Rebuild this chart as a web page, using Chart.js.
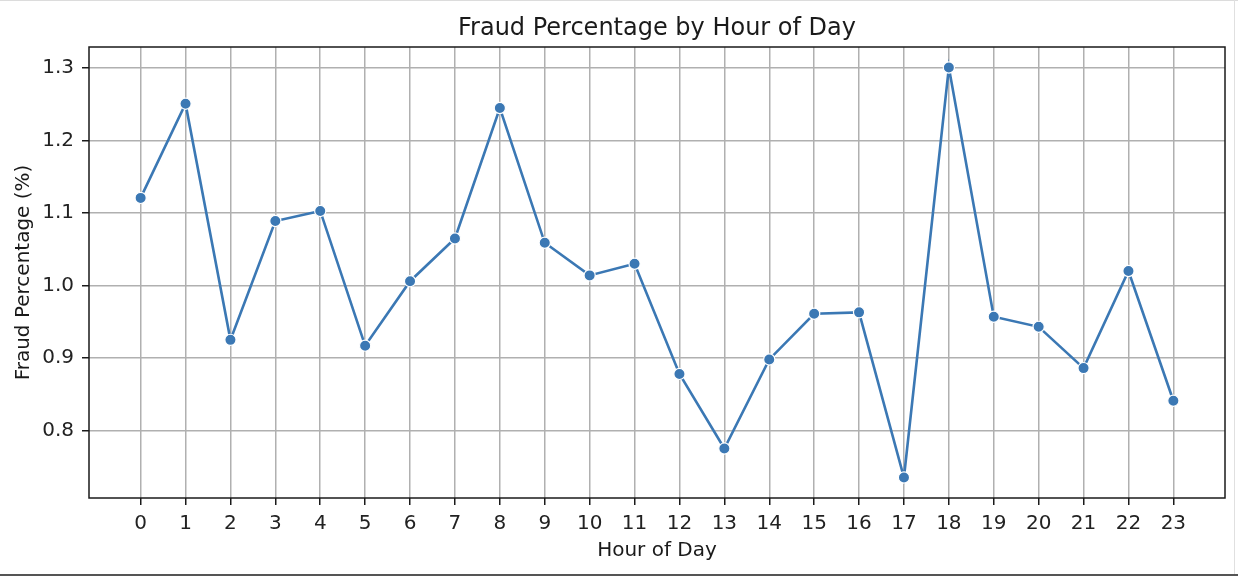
<!DOCTYPE html>
<html lang="en">
<head>
    <meta charset="UTF-8">
    <title>Fraud Percentage by Hour of Day</title>
    <script src="https://cdn.jsdelivr.net/npm/chart.js"></script>
    <style>
        html, body { margin: 0; padding: 0; background: #fff; }
        .wrap { position: relative; width: 1238px; height: 576px; overflow: hidden; }
        .edge-top { position: absolute; left: 0; top: 0; width: 1238px; height: 1px; background: #dcdcdc; }
        .edge-right { position: absolute; right: 3px; top: 0; width: 1px; height: 576px; background: #e0e0e0; }
        .edge-bottom { position: absolute; left: 0; top: 574px; width: 1238px; height: 2px; background: #555; }
    </style>
</head>
<body>
    <div class="wrap">
        <canvas id="fraudChart"></canvas>
        <div class="edge-top"></div>
        <div class="edge-right"></div>
        <div class="edge-bottom"></div>
    </div>
    <script>
        const hours = [0, 1, 2, 3, 4, 5, 6, 7, 8, 9, 10, 11, 12, 13, 14, 15, 16, 17, 18, 19, 20, 21, 22, 23];
        const fraudPct = [1.121, 1.251, 0.925, 1.089, 1.103, 0.917, 1.006, 1.065, 1.245, 1.059, 1.014, 1.030,
                          0.878, 0.775, 0.898, 0.961, 0.963, 0.735, 1.301, 0.957, 0.943, 0.886, 1.020, 0.841];
        const yTicks = [0.8, 0.9, 1.0, 1.1, 1.2, 1.3];

        const chartTitle = "Fraud Percentage by Hour of Day";
        const lineColor = "#3b78b4";
        const font = "DejaVu Sans";

        // matplotlib style 5% margins around the data
        const xPad = (hours[hours.length - 1] - hours[0]) * 0.05;
        const yLo = Math.min(...fraudPct), yHi = Math.max(...fraudPct);
        const yPad = (yHi - yLo) * 0.05;

        // box round the plot area (spines) and a title centred on the plot, not the canvas
        const framePlugin = {
            id: "frame",
            afterDraw(chart) {
                const a = chart.chartArea;
                const ctx = chart.ctx;
                ctx.save();
                ctx.strokeStyle = "#1a1a1a";
                ctx.lineWidth = 1.5;
                ctx.strokeRect(a.left, a.top, a.right - a.left, a.bottom - a.top);

                ctx.fillStyle = "#1a1a1a";
                ctx.font = "24px '" + font + "'";
                ctx.textAlign = "center";
                ctx.textBaseline = "alphabetic";
                ctx.fillText(chartTitle, (a.left + a.right) / 2, a.top - 12);
                ctx.restore();
            }
        };

        new Chart(document.getElementById("fraudChart"), {
            type: "line",
            data: {
                datasets: [{
                    label: "Fraud Percentage (%)",
                    data: hours.map((h, i) => ({ x: h, y: fraudPct[i] })),
                    borderColor: lineColor,
                    borderWidth: 2.6,
                    backgroundColor: lineColor,
                    pointBackgroundColor: lineColor,
                    pointBorderColor: "#ffffff",
                    pointBorderWidth: 1.2,
                    pointRadius: 5.6,
                    tension: 0,
                    fill: false
                }]
            },
            options: {
                responsive: true,
                maintainAspectRatio: false,
                animation: false,
                layout: { padding: { left: 0, right: 13, top: 47, bottom: 0 } },
                plugins: {
                    legend: { display: false },
                    tooltip: { enabled: false },
                    title: { display: false }
                },
                scales: {
                    x: {
                        type: "linear",
                        min: hours[0] - xPad,
                        max: hours[hours.length - 1] + xPad,
                        afterBuildTicks: (scale) => { scale.ticks = hours.map(v => ({ value: v })); },
                        afterFit: (scale) => { scale.height = 78; },
                        ticks: {
                            color: "#222",
                            font: { family: font, size: 20 },
                            padding: 7,
                            maxRotation: 0,
                            autoSkip: false,
                            callback: (v) => String(v)
                        },
                        grid: {
                            color: "#b0b0b0",
                            lineWidth: 1.5,
                            tickColor: "#1a1a1a",
                            tickWidth: 1.5,
                            tickLength: 7
                        },
                        border: { display: false },
                        title: {
                            display: true,
                            text: "Hour of Day",
                            color: "#1a1a1a",
                            font: { family: font, size: 20 },
                            padding: { top: 0, bottom: 13 }
                        }
                    },
                    y: {
                        min: yLo - yPad,
                        max: yHi + yPad,
                        afterBuildTicks: (scale) => { scale.ticks = yTicks.map(v => ({ value: v })); },
                        afterFit: (scale) => { scale.width = 89; },
                        ticks: {
                            color: "#222",
                            font: { family: font, size: 20 },
                            padding: 8,
                            callback: (v) => Number(v).toFixed(1)
                        },
                        grid: {
                            color: "#b0b0b0",
                            lineWidth: 1.5,
                            tickColor: "#1a1a1a",
                            tickWidth: 1.5,
                            tickLength: 7
                        },
                        border: { display: false },
                        title: {
                            display: true,
                            text: "Fraud Percentage (%)",
                            color: "#1a1a1a",
                            font: { family: font, size: 20 },
                            padding: { top: 11.5, bottom: 0 }
                        }
                    }
                }
            },
            plugins: [framePlugin]
        });
    </script>
</body>
</html>
